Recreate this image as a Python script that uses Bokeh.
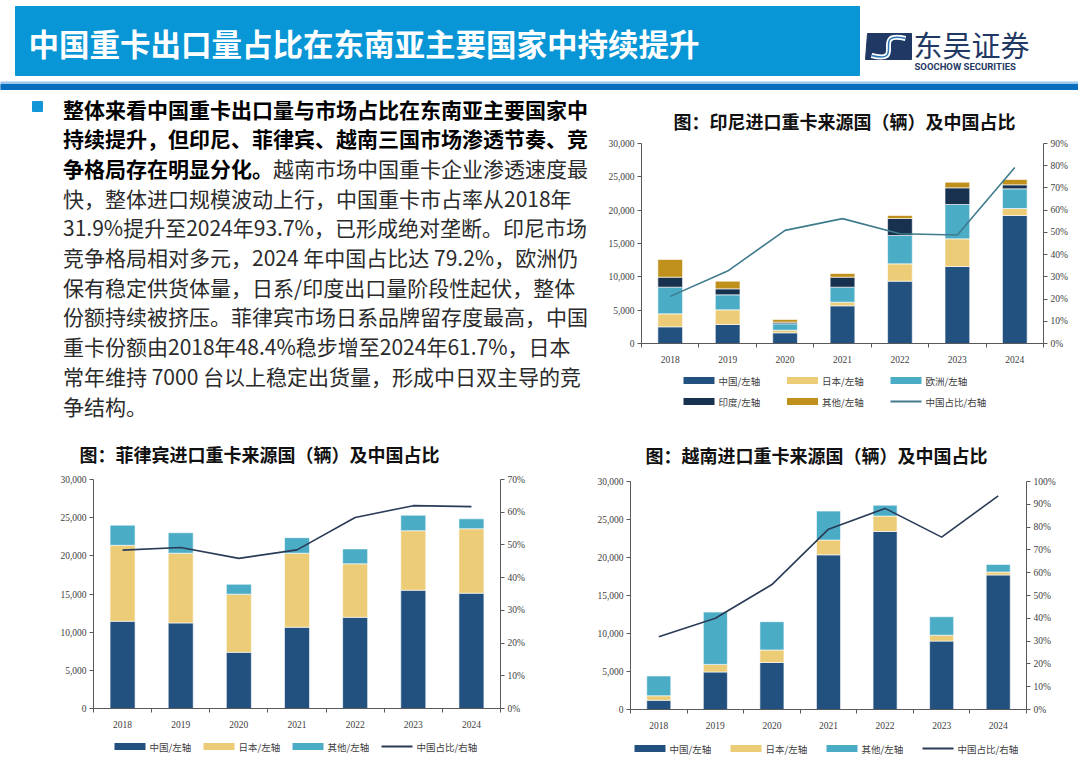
from bokeh.plotting import figure
from bokeh.models import (Range1d, LinearAxis, FixedTicker, NumeralTickFormatter,
                          PrintfTickFormatter, ColumnDataSource)
from bokeh.layouts import column, row
from bokeh.embed import file_html
from bokeh.resources import INLINE
from bokeh.core.properties import value

years = ["2018", "2019", "2020", "2021", "2022", "2023", "2024"]

# Indonesia (units: vehicles; share in %)
idn_china = [2500, 2850, 1600, 5650, 9350, 11550, 19200]
idn_japan = [1950, 2200, 400, 550, 2600, 4150, 1050]
idn_europe = [4000, 2250, 950, 2250, 4250, 5150, 2950]
idn_india = [1500, 900, 250, 1500, 2550, 2500, 600]
idn_other = [2650, 1150, 400, 550, 450, 850, 800]
idn_share = [21.2, 32.6, 50.9, 56.2, 49.4, 48.8, 79.2]
idn_names = ["中国/左轴", "日本/左轴", "欧洲/左轴", "印度/左轴", "其他/左轴"]

# Philippines
phl_china = [11430, 11210, 7360, 10650, 11950, 15500, 15110]
phl_japan = [9950, 9135, 7620, 9695, 7010, 7790, 8440]
phl_other = [2640, 2685, 1295, 2035, 1950, 2035, 1300]
phl_share = [48.4, 49.2, 45.9, 48.5, 58.4, 62.0, 61.7]

# Vietnam
vnm_china = [1210, 4935, 6190, 20350, 23420, 9000, 17700]
vnm_japan = [600, 1000, 1645, 1950, 2035, 780, 390]
vnm_other = [2600, 6880, 3720, 3810, 1430, 2420, 1000]
vnm_share = [31.9, 40.0, 54.8, 79.1, 88.2, 75.6, 93.7]

three_names = ["中国/左轴", "日本/左轴", "其他/左轴"]
share_name = "中国占比/右轴"
left_ticks = [0, 5000, 10000, 15000, 20000, 25000, 30000]

C_CHINA = "#22517F"
C_JAPAN = "#EDCC77"
C_LBLUE = "#4BACC6"
C_INDIA = "#17314F"
C_GOLD = "#BF911C"

CJK = "Noto Sans CJK SC"
SERIF = "Liberation Serif"


def blank(width, height):
    p = figure(width=width, height=height, output_backend="svg",
               toolbar_location=None, frame_align=False,
               x_range=Range1d(0, width), y_range=Range1d(height, 0),
               x_axis_location=None, y_axis_location=None, min_border=0)
    p.outline_line_color = None
    p.grid.visible = False
    return p


def make_chart(title, width, height, borders, series, colors, share,
               share_max, line_color, bar_width, title_offset, title_standoff):
    n = len(years)
    data = {"x": list(range(n)), "share": share}
    keys = []
    for i, s in enumerate(series):
        k = "s%d" % i
        data[k] = s
        keys.append(k)
    src = ColumnDataSource(data)
    bl, br, bt, bb = borders
    p = figure(width=width, height=height, output_backend="svg",
               toolbar_location=None, frame_align=False,
               x_range=Range1d(-0.5, n - 0.5), y_range=Range1d(0, 30000),
               min_border_left=bl, min_border_right=br, min_border_top=bt,
               min_border_bottom=bb)
    p.extra_y_ranges = {"pct": Range1d(0, share_max)}
    p.outline_line_color = None
    p.xgrid.visible = False
    p.ygrid.visible = False

    p.vbar_stack(keys, x="x", width=bar_width, color=colors,
                 line_color="white", line_width=0.6, source=src)
    p.line("x", "share", y_range_name="pct", source=src,
           line_color=line_color, line_width=1.6)

    ya = p.yaxis[0]
    ya.ticker = FixedTicker(ticks=left_ticks)
    ya.formatter = NumeralTickFormatter(format="0,0")
    ra = LinearAxis(y_range_name="pct",
                    ticker=FixedTicker(ticks=list(range(0, share_max + 1, 10))),
                    formatter=PrintfTickFormatter(format="%d%%"))
    p.add_layout(ra, "right")
    for ax in (ya, ra):
        ax.axis_line_color = "#595959"
        ax.major_tick_line_color = "#595959"
        ax.major_tick_out = 4
        ax.major_tick_in = 0
        ax.minor_tick_line_color = None
        ax.major_label_standoff = 3
        ax.major_label_text_font = SERIF
        ax.major_label_text_font_size = "9.5px"
        ax.major_label_text_color = "#404040"

    xa = p.xaxis[0]
    xa.ticker = FixedTicker(ticks=list(range(n)),
                            minor_ticks=[i - 0.5 for i in range(n + 1)])
    xa.major_label_overrides = {i: y for i, y in enumerate(years)}
    xa.axis_line_color = "#595959"
    xa.major_tick_line_color = None
    xa.minor_tick_line_color = "#595959"
    xa.minor_tick_out = 4
    xa.minor_tick_in = 0
    xa.major_label_standoff = 6
    xa.major_label_text_font = SERIF
    xa.major_label_text_font_size = "9.5px"
    xa.major_label_text_color = "#404040"

    p.title.text = title
    p.title.align = "left"
    p.title.offset = title_offset
    p.title.standoff = title_standoff
    p.title.text_font = CJK
    p.title.text_font_size = "18px"
    p.title.text_font_style = "bold"
    p.title.text_color = "#111111"
    return p


def make_legend(width, height, names, colors, line_color, x_start, x_pitch,
                ncols, y_first, y_pitch):
    p = blank(width, height)
    labels = list(names) + [share_name]
    xs = [x_start + (i % ncols) * x_pitch for i in range(len(labels))]
    ys = [y_first + (i // ncols) * y_pitch for i in range(len(labels))]
    nb = len(names)
    p.quad(left=xs[:nb], right=[x + 31 for x in xs[:nb]],
           top=[y - 3.5 for y in ys[:nb]], bottom=[y + 3.5 for y in ys[:nb]],
           color=colors, line_color=None)
    p.segment(x0=[xs[nb]], y0=[ys[nb]], x1=[xs[nb] + 31], y1=[ys[nb]],
              line_color=line_color, line_width=2)
    p.text(x=[x + 35 for x in xs], y=ys, text=labels, text_font=value(CJK),
           text_font_size="9.5px", text_color="#404040", text_baseline="middle")
    return p


# ---------------- header ----------------
HW, HH = 1078, 90
hdr = blank(HW, HH)
hdr.quad(left=[15], right=[859], top=[6], bottom=[75], color="#0996D6")
hdr.text(x=[28], y=[42], text=["中国重卡出口量占比在东南亚主要国家中持续提升"],
         text_font=value(CJK), text_font_size="30.5px", text_font_style="bold",
         text_color="white", text_baseline="middle")
hdr.patch(x=[867, 911, 911, 865], y=[33, 33, 59, 59], color="#1F3864")
hdr.bezier(x0=[905], y0=[38], x1=[871], y1=[55], cx0=[870], cy0=[30],
           cx1=[906], cy1=[64], line_color="white", line_width=5)
hdr.bezier(x0=[905], y0=[38], x1=[871], y1=[55], cx0=[870], cy0=[30],
           cx1=[906], cy1=[64], line_color="#2E75B6", line_width=1.5)
hdr.text(x=[913], y=[43], text=["东吴证券"], text_font=value(CJK),
         text_font_size="29px", text_color="#1F3864", text_baseline="middle")
hdr.text(x=[914], y=[66], text=["SOOCHOW SECURITIES"], text_font=value("Roboto"),
         text_font_size="9.5px", text_font_style="bold", text_color="#1F3864",
         text_baseline="middle")
hdr.quad(left=[0], right=[HW], top=[81.5], bottom=[83], color="#9DC8EC")
hdr.quad(left=[0], right=[HW], top=[84], bottom=[89], color="#0A6EBF")

# ---------------- text block ----------------
txt = blank(605, 335)
txt.quad(left=[32], right=[42], top=[11], bottom=[21], color="#1296D8")

bold_lines = ["整体来看中国重卡出口量与市场占比在东南亚主要国家中",
              "持续提升，但印尼、菲律宾、越南三国市场渗透节奏、竞",
              "争格局存在明显分化。"]
reg_first = "越南市场中国重卡企业渗透速度最"
reg_lines = ["快，整体进口规模波动上行，中国重卡市占率从2018年",
             "31.9%提升至2024年93.7%，已形成绝对垄断。印尼市场",
             "竞争格局相对多元，2024 年中国占比达 79.2%，欧洲仍",
             "保有稳定供货体量，日系/印度出口量阶段性起伏，整体",
             "份额持续被挤压。菲律宾市场日系品牌留存度最高，中国",
             "重卡份额由2018年48.4%稳步增至2024年61.7%，日本",
             "常年维持 7000 台以上稳定出货量，形成中日双主导的竞",
             "争结构。"]
x0 = 62.5
y0 = 18
pitch = 29.7
txt.text(x=[x0] * 3, y=[y0 + i * pitch for i in range(3)], text=bold_lines,
         text_font=value(CJK), text_font_size="21px", text_font_style="bold",
         text_color="#000000", text_baseline="middle")
txt.text(x=[x0 + 10 * 21], y=[y0 + 2 * pitch], text=[reg_first],
         text_font=value(CJK), text_font_size="21px",
         text_color="#2b2b2b", text_baseline="middle")
txt.text(x=[x0] * len(reg_lines), y=[y0 + (i + 3) * pitch for i in range(len(reg_lines))],
         text=reg_lines, text_font=value(CJK), text_font_size="21px",
         text_color="#2b2b2b", text_baseline="middle")

# ---------------- charts ----------------
idn_colors = [C_CHINA, C_JAPAN, C_LBLUE, C_INDIA, C_GOLD]
idn = make_chart("图：印尼进口重卡来源国（辆）及中国占比", 473, 276, (32, 35, 53, 23),
                 [idn_china, idn_japan, idn_europe, idn_india, idn_other],
                 idn_colors, idn_share, 90, "#3F7B8D", 0.43, 32, 20)
idn_leg = make_legend(473, 59, idn_names, idn_colors, "#3F7B8D",
                      78, 103.5, 3, 14, 21)

three_colors = [C_CHINA, C_JAPAN, C_LBLUE]
phl = make_chart("图：菲律宾进口重卡来源国（辆）及中国占比", 565, 306, (93, 65, 52, 23),
                 [phl_china, phl_japan, phl_other],
                 three_colors, phl_share, 70, "#2A3B57", 0.43, -14, 26)
phl_leg = make_legend(565, 26, three_names, three_colors, "#2A3B57",
                      114, 89, 4, 15, 0)

vnm = make_chart("图：越南进口重卡来源国（辆）及中国占比", 513, 306, (65, 52, 53, 22),
                 [vnm_china, vnm_japan, vnm_other],
                 three_colors, vnm_share, 100, "#2A3B57", 0.425, 15, 28)
vnm_leg = make_legend(513, 26, three_names, three_colors, "#2A3B57",
                      69, 96, 4, 17, 0)

layout = column(hdr,
                row(txt, column(idn, idn_leg)),
                row(column(phl, phl_leg), column(vnm, vnm_leg)))
open("out.html", "w").write(file_html(layout, INLINE))
